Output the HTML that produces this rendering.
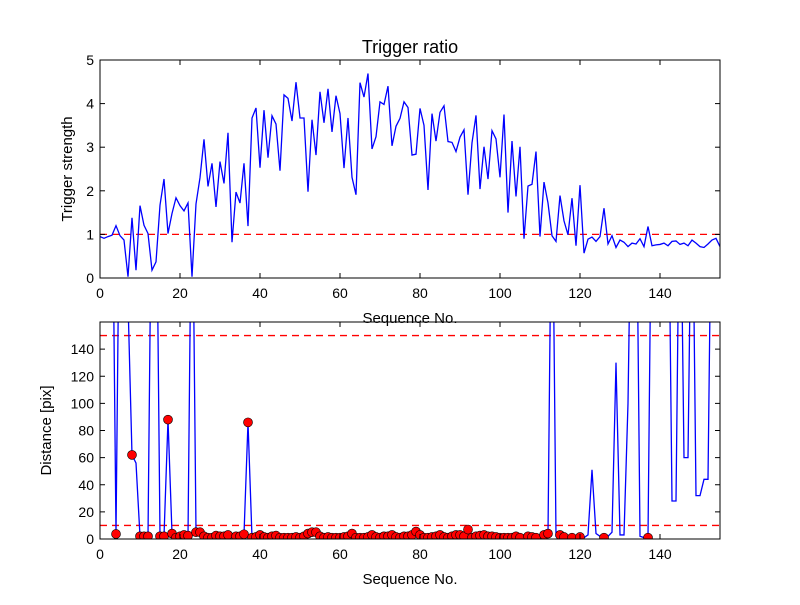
<!DOCTYPE html>
<html><head><meta charset="utf-8"><style>
body{margin:0;background:#fff}
svg text{font-family:"Liberation Sans","DejaVu Sans",sans-serif;fill:#000}
</style></head><body>
<svg id="chart" width="800" height="600" xmlns="http://www.w3.org/2000/svg">
<rect width="800" height="600" fill="#fff"/>
<defs>
<clipPath id="c1"><rect x="100" y="60" width="620" height="218"/></clipPath>
<clipPath id="c2"><rect x="100" y="322" width="620" height="217"/></clipPath>
</defs>
<g id="g1"></g>
<g id="g2"></g>
</svg>
<script>
const trigger=[0.95,0.91,0.95,0.98,1.2,0.97,0.87,0.03,1.38,0.18,1.66,1.21,1.02,0.18,0.37,1.67,2.27,1.02,1.48,1.84,1.66,1.54,1.72,0.03,1.7,2.3,3.18,2.1,2.63,1.63,2.67,2.17,3.33,0.82,1.97,1.72,2.63,1.19,3.67,3.9,2.53,3.85,2.76,3.72,3.53,2.46,4.2,4.12,3.6,4.49,3.67,3.67,1.98,3.63,2.82,4.27,3.56,4.34,3.35,4.18,3.77,2.52,3.67,2.31,1.91,4.48,4.15,4.69,2.96,3.24,4.04,3.98,4.4,3.03,3.48,3.66,4.04,3.91,2.82,2.84,3.89,3.5,2.02,3.77,3.14,3.8,3.95,3.13,3.11,2.9,3.23,3.4,1.91,3.1,3.73,2.04,3.01,2.27,3.38,3.19,2.31,3.75,1.5,3.14,1.87,3.01,0.9,2.11,2.15,2.9,0.95,2.2,1.72,0.97,0.84,1.89,1.31,0.99,1.83,0.74,2.13,0.57,0.89,0.94,0.84,0.95,1.6,0.78,0.97,0.7,0.87,0.82,0.72,0.8,0.78,0.9,0.72,1.18,0.74,0.76,0.77,0.8,0.74,0.84,0.85,0.77,0.8,0.74,0.87,0.8,0.72,0.7,0.78,0.87,0.91,0.72];
const distance=[300,300,300,300,3.7,300,300,175,62,56,2,2,2,300,300,2,2,88,4,1,2,3,2.5,300,5,5,2,1,1,2.5,2,2,3,1.5,2,2,3.5,86,1,1.5,3,1.5,1,2,2.5,1,1,1,1,1.5,1,2,4,5,5,2,1,1.5,1,1,1,1.5,2,4,1,1,1,1.5,3,1.5,1,2,2,3,1.5,1,2,2,3,5.5,3,1,1,1.5,2,3,1.5,1,2,3,3,2,7,1,2,2.5,3,2,2,1.5,1,1,1,1,2,1,1,2,1.5,1,1,3,4,300,2,3,1.5,1,1,1,1.5,1,3,51,4,2,1,2,5,130,3,3,100,300,300,2,1,1,300,300,300,300,300,28,28,300,60,60,300,32,32,44,44,300,300,300];
const xTicks=[0,20,40,60,80,100,120,140];
const y1Ticks=[0,1,2,3,4,5];
const y2Ticks=[0,20,40,60,80,100,120,140];
const threshold1=1, thresholds2=[10,150];
const NS='http://www.w3.org/2000/svg';
function mk(p,t,a){const e=document.createElementNS(NS,t);for(const k in a)e.setAttribute(k,a[k]);p.appendChild(e);return e;}
const L=100,R=720;
const xs=v=>L+(v-0)/155*(R-L);
function axes(g,top,bot,ymax,yTicks,sy,ylab,ylx,title){
  mk(g,'rect',{x:L,y:top,width:R-L,height:bot-top,fill:'none',stroke:'#000','stroke-width':1});
  xTicks.forEach(t=>{const x=xs(t);
    const a=mk(g,'line',{x1:x,x2:x,y1:bot,y2:bot-5,stroke:'#000'});
    mk(g,'line',{x1:x,x2:x,y1:top,y2:top+5,stroke:'#000'});
    const tx=mk(g,'text',{x:x,y:bot+20,'text-anchor':'middle','font-size':14});tx.textContent=t;});
  yTicks.forEach(t=>{const y=sy(t);
    const a=mk(g,'line',{x1:L,x2:L+5,y1:y,y2:y,stroke:'#000'});
    mk(g,'line',{x1:R,x2:R-5,y1:y,y2:y,stroke:'#000'});
    const tx=mk(g,'text',{x:L-6,y:y+5,'text-anchor':'end','font-size':14});tx.textContent=t;});
  const xl=mk(g,'text',{x:410,y:bot+45,'text-anchor':'middle','font-size':15});xl.textContent='Sequence No.';
  const yl=mk(g,'text',{x:ylx,y:(top+bot)/2,'text-anchor':'middle','font-size':15,transform:`rotate(-90 ${ylx} ${(top+bot)/2})`});yl.textContent=ylab;
  if(title){const tt=mk(g,'text',{x:410,y:53,'text-anchor':'middle','font-size':18});tt.textContent=title;}
}
// top plot
const g1=document.getElementById('g1');
const sy1=v=>278-(v/5)*218;
const p1=mk(g1,'g',{'clip-path':'url(#c1)'});
const th=mk(p1,'line',{x1:L,x2:R,y1:sy1(threshold1),y2:sy1(threshold1),stroke:'#f00','stroke-dasharray':'7,5','stroke-width':1.3});

const l1=mk(p1,'polyline',{points:trigger.map((v,i)=>xs(i)+','+sy1(v)).join(' '),fill:'none',stroke:'#00f','stroke-width':1.3});

axes(g1,60,278,5,y1Ticks,sy1,'Trigger strength',72,'Trigger ratio');
// bottom plot
const g2=document.getElementById('g2');
const sy2=v=>539-(v/160)*217;
const p2=mk(g2,'g',{'clip-path':'url(#c2)'});
thresholds2.forEach(t=>{const e=mk(p2,'line',{x1:L,x2:R,y1:sy2(t),y2:sy2(t),stroke:'#f00','stroke-dasharray':'7,5','stroke-width':1.3});});
const l2=mk(p2,'polyline',{points:distance.map((v,i)=>xs(i)+','+sy2(v)).join(' '),fill:'none',stroke:'#00f','stroke-width':1.3});

distance.forEach((v,i)=>{if(trigger[i]>threshold1){const c=mk(p2,'circle',{cx:xs(i),cy:sy2(v),r:4.5,fill:'#f00',stroke:'#000','stroke-width':0.6});}});
axes(g2,322,539,160,y2Ticks,sy2,'Distance [pix]',51,null);
</script>
</body></html>
